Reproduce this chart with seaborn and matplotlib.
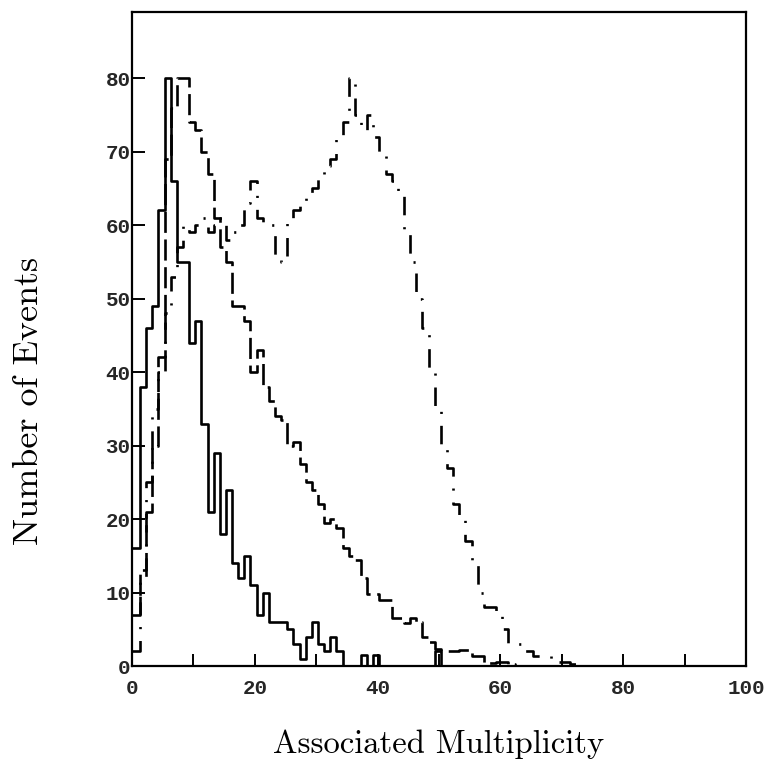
import numpy as np
import pandas as pd
import matplotlib
matplotlib.use("Agg")
import matplotlib.pyplot as plt
import seaborn as sns

# Event counts per multiplicity bin (bin k spans k+0.3 .. k+1.3, first bin starts at 0)
solid_counts = [16, 38, 46, 49, 62, 80, 66, 55, 55, 44,
                47, 33, 21, 29, 18, 24, 14, 12, 15, 11,
                7, 10, 6, 6, 6, 5, 3, 1, 4, 6,
                3, 2, 4, 2, 0, 0, 0, 1.5, 0, 1.5,
                0, 0, 0, 0, 0, 0, 0, 0, 0, 2]

dashed_counts = [7, 13, 21, 30, 40, 69, 76, 80, 80, 74,
                 73, 70, 67, 61, 57, 55, 49, 49, 47, 40,
                 43, 38, 36, 34, 33.5, 30, 30.5, 27.5, 25, 24,
                 22, 19.5, 20, 18.8, 16, 15, 14.4, 12, 9.8, 9.8,
                 9, 9, 6.5, 6.5, 5.8, 6.5, 6, 4, 3.3, 2.3,
                 2, 2, 2, 2.2, 2.2, 1.3, 1.3, 0.4, 0.4, 0.6,
                 0.5, 0.3]

dashdot_counts = [2, 12, 25, 35, 42, 48, 53, 57, 60, 59,
                  60, 61, 59, 60, 61, 58, 59, 60, 63, 66,
                  61, 60, 60, 56, 55, 61, 62, 63, 64, 65,
                  67, 68, 69, 72, 74, 80, 75, 73, 75, 72,
                  70, 67, 66, 64, 59, 55, 50, 46, 40, 35,
                  30, 27, 22, 20, 17, 14, 10, 8, 8, 7,
                  5, 3, 3, 2, 2, 1.3, 1.3, 1.3, 1, 0.6,
                  0.6, 0.3]

x_ticks = [0, 10, 20, 30, 40, 50, 60, 70, 80, 90, 100]
x_tick_labels = ["0", "", "20", "", "40", "", "60", "", "80", "", "100"]
y_ticks = [0, 10, 20, 30, 40, 50, 60, 70, 80]
y_tick_labels = ["0", "10", "20", "30", "40", "50", "60", "70", "80"]

sns.set_theme(style="white")
plt.rcParams["font.family"] = ["DejaVu Sans"]
plt.rcParams["axes.unicode_minus"] = False

n_bins = max(len(solid_counts), len(dashed_counts), len(dashdot_counts)) + 4
edges = list(np.r_[0.0, np.arange(1, n_bins + 1) + 0.3])
centers = [(a + b) / 2 for a, b in zip(edges[:-1], edges[1:])]


def binned(counts):
    w = list(counts) + [0] * (n_bins - len(counts))
    return pd.DataFrame({"multiplicity": centers, "events": w})


fig = plt.figure(figsize=(7.75, 7.61), dpi=100)
ax = fig.add_axes([0.1703, 0.1248, 0.7923, 0.8594])

series = [
    (solid_counts, "-"),
    (dashed_counts, (0, (8, 2.5))),
    (dashdot_counts, (0, (7, 4.5, 0.8, 4.5))),
]
for counts, ls in series:
    sns.histplot(data=binned(counts), x="multiplicity", weights="events",
                 bins=edges, element="step", fill=False, color="black",
                 linewidth=1.9, linestyle=ls, ax=ax)

ax.set_xlim(0, 100)
ax.set_ylim(0, 89)

tick_font = dict(family="Liberation Mono", weight="bold", size=15)
ax.set_xticks(x_ticks)
ax.set_xticklabels(x_tick_labels, fontdict=tick_font)
ax.set_yticks(y_ticks)
ax.set_yticklabels(y_tick_labels, fontdict=tick_font)
ax.tick_params(axis="both", which="major", bottom=True, left=True,
               direction="in", length=9, width=1.4, color="black")
ax.tick_params(axis="x", pad=9)
ax.tick_params(axis="y", pad=1)

for spine in ax.spines.values():
    spine.set_color("black")
    spine.set_linewidth(1.6)

ax.set_xlabel("Associated Multiplicity",
              fontdict=dict(family="cmr10", size=23.5, color="black"), labelpad=23)
ax.set_ylabel("Number of Events",
              fontdict=dict(family="cmr10", size=26, color="black"))
ax.yaxis.set_label_coords(-0.141, 0.405)

fig.savefig("out.png", dpi=100, facecolor="white")
